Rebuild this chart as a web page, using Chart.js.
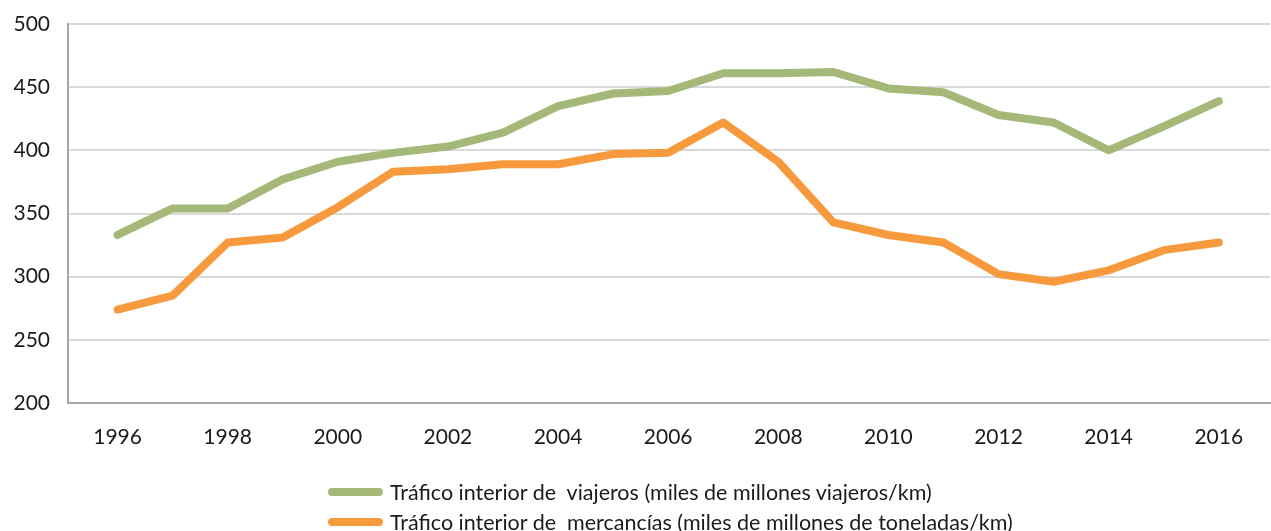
<!DOCTYPE html>
<html>
<head>
<meta charset="utf-8">
<script src="https://cdn.jsdelivr.net/npm/chart.js@4"></script>
<style>
  html, body { margin:0; padding:0; background:#fff; }
  #wrap { position:relative; width:1271px; height:531px; }
  canvas { position:absolute; left:0; top:0; }
  #legend { position:absolute; left:328px; top:477px; font-family:Lato, "Open Sans", sans-serif; font-size:21.5px; color:#1a1a1a; }
  .row { display:flex; align-items:center; height:30px; white-space:pre; }
  .sw { width:55px; height:8px; border-radius:4px; margin-right:7px; }
</style>
</head>
<body>
<div id="wrap">
<canvas id="c" width="1271" height="531"></canvas>
<div id="legend"></div>
</div>
<script>
const years = [1996,1997,1998,1999,2000,2001,2002,2003,2004,2005,2006,2007,2008,2009,2010,2011,2012,2013,2014,2015,2016];
const viajeros = [333,354,354,377,391,398,403,414,435,445,447,461,461,462,449,446,428,422,400,419,439];
const mercancias = [274,285,327,331,355,383,385,389,389,397,398,422,391,343,333,327,302,296,305,321,327];
const yTicks = [200,250,300,350,400,450,500];
const xTickLabels = [1996,1998,2000,2002,2004,2006,2008,2010,2012,2014,2016];
const seriesNames = ["Tráfico interior de  viajeros (miles de millones viajeros/km)",
                     "Tráfico interior de  mercancías (miles de millones de toneladas/km)"];
const colors = ["#A5B878", "#F79A3E"];

const legend = document.getElementById('legend');
seriesNames.forEach((n,i)=>{
  const r = document.createElement('div'); r.className='row';
  const s = document.createElement('div'); s.className='sw'; s.style.background=colors[i];
  const t = document.createElement('span'); t.textContent=n;
  r.appendChild(s); r.appendChild(t); legend.appendChild(r);
});

const font = {family:'Lato, "Open Sans", sans-serif', size:21};
new Chart(document.getElementById('c'), {
  type:'line',
  data:{
    datasets:[
      {label:seriesNames[0], data:years.map((y,i)=>({x:y,y:viajeros[i]})), borderColor:colors[0], borderWidth:8, pointRadius:0, borderCapStyle:'round', borderJoinStyle:'round', tension:0},
      {label:seriesNames[1], data:years.map((y,i)=>({x:y,y:mercancias[i]})), borderColor:colors[1], borderWidth:8, pointRadius:0, borderCapStyle:'round', borderJoinStyle:'round', tension:0}
    ]
  },
  options:{
    responsive:false, animation:false,
    layout:{padding:{top:24,right:1,left:0,bottom:0}},
    plugins:{legend:{display:false}, tooltip:{enabled:false}},
    scales:{
      x:{type:'linear', min:1995.1, max:2016.93,
         afterBuildTicks:(s)=>{ s.ticks = xTickLabels.map(v=>({value:v})); },
         afterFit:(s)=>{ s.height = 128; s.paddingLeft = 0; s.paddingRight = 0; },
         grid:{display:false, drawTicks:false},
         border:{display:true, color:'#a6a6a6', width:2},
         ticks:{font:font, color:'#1a1a1a', padding:22, maxRotation:0, autoSkip:false, callback:(v)=>String(v)}
      },
      y:{min:200, max:500,
         afterBuildTicks:(s)=>{ s.ticks = yTicks.map(v=>({value:v})); },
         afterFit:(s)=>{ s.width = 68; s.paddingTop = 0; s.paddingBottom = 0; },
         grid:{color:'#d9d9d9', lineWidth:2, drawTicks:false},
         border:{display:true, color:'#a6a6a6', width:2},
         ticks:{font:font, color:'#1a1a1a', padding:18}
      }
    }
  }
});
</script>
</body>
</html>
